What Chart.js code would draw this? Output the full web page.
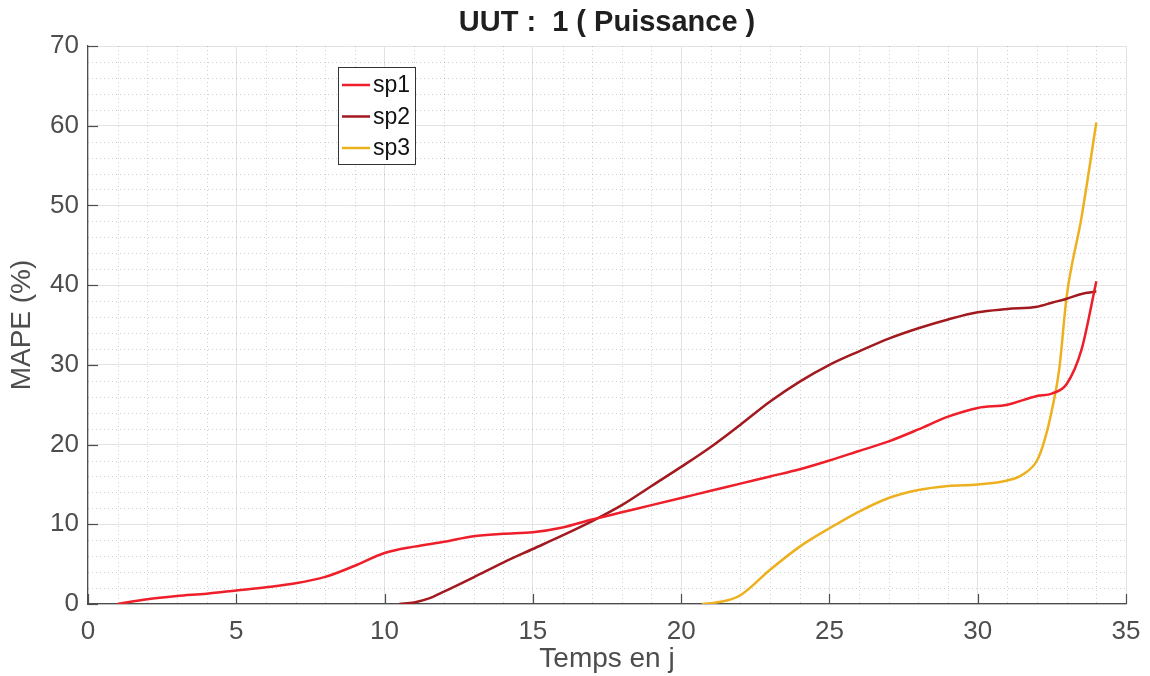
<!DOCTYPE html>
<html>
<head>
<meta charset="utf-8">
<script src="https://cdn.jsdelivr.net/npm/chart.js@4.4.1/dist/chart.umd.min.js"></script>
<style>
  html, body { margin:0; padding:0; background:#fff; }
  #wrap { width:1150px; height:676px; }
</style>
</head>
<body>
<div id="wrap"><canvas id="chartMape" width="1150" height="676"></canvas></div>
<script>
// ----- Données
const titre  = 'UUT :  1 ( Puissance )';
const xLabel = 'Temps en j';
const yLabel = 'MAPE (%)';
const xTicks = [0, 5, 10, 15, 20, 25, 30, 35];
const yTicks = [0, 10, 20, 30, 40, 50, 60, 70];

const jours1 = [1,2,3,4,5,6,7,8,9,10,11,12,13,14,15,16,17,18,19,20,21,22,23,24,25,26,27,28,29,30,31,32,32.5,33,33.5,34];
const mape1  = [0,0.6,1.0,1.3,1.7,2.1,2.6,3.4,4.8,6.4,7.2,7.8,8.5,8.8,9.0,9.6,10.6,11.5,12.4,13.3,14.2,15.1,16.0,16.9,18.0,19.2,20.4,21.9,23.5,24.6,25.0,26.1,26.4,27.6,31.9,40.5];

const jours2 = [10.5,11,11.5,12,13,14,15,16,17,18,19,20,21,22,23,24,25,26,27,28,29,30,31,32,32.5,33,33.5,34];
const mape2  = [0,0.2,0.7,1.55,3.35,5.2,6.9,8.6,10.4,12.4,14.8,17.2,19.7,22.5,25.4,27.9,30.0,31.7,33.3,34.6,35.7,36.6,37.0,37.3,37.8,38.3,38.9,39.2];

const jours3 = [20.7,21,21.5,22,23,24,25,26,27,28,29,30,31,31.5,32,32.25,32.5,32.75,33,33.5,34];
const mape3  = [0,0.1,0.4,1.1,4.3,7.2,9.5,11.6,13.3,14.3,14.8,15.0,15.5,16.2,18.0,20.5,24.3,29.5,38.6,48.5,60.4];

// Palette
const rouge = '#ee1f2a', bordeaux = '#a2191f', jaune = '#edb120';
const FONT = '"Liberation Sans", Arial, Helvetica, sans-serif';
const gris = '#4d4d4d';

const pts = (xs, ys) => xs.map((x, i) => ({ x, y: ys[i] }));

// Grille mineure pointillée + graduations intérieures
const grilleMineure = {
  id: 'grilleMineure',
  beforeDatasetsDraw(chart) {
    const { ctx, chartArea: a, scales: { x, y } } = chart;
    ctx.save();
    ctx.strokeStyle = 'rgba(0,0,0,0.18)';
    ctx.lineWidth = 1;
    ctx.setLineDash([1, 3]);
    for (let v = x.min + 1; v < x.max; v += 1) {
      if (v % 5 === 0) continue;
      const px = Math.round(x.getPixelForValue(v)) + 0.5;
      ctx.beginPath(); ctx.moveTo(px, a.top); ctx.lineTo(px, a.bottom); ctx.stroke();
    }
    for (let v = y.min + 2; v < y.max; v += 2) {
      if (v % 10 === 0) continue;
      const py = Math.round(y.getPixelForValue(v)) + 0.5;
      ctx.beginPath(); ctx.moveTo(a.left, py); ctx.lineTo(a.right, py); ctx.stroke();
    }
    ctx.restore();
  },
  afterDatasetsDraw(chart) {
    const { ctx, chartArea: a, scales: { x, y } } = chart;
    ctx.save();
    ctx.strokeStyle = gris;
    ctx.lineWidth = 1.2;
    xTicks.forEach(v => {
      const px = Math.round(x.getPixelForValue(v)) + 0.5;
      ctx.beginPath(); ctx.moveTo(px, a.bottom); ctx.lineTo(px, a.bottom - 10); ctx.stroke();
    });
    yTicks.forEach(v => {
      const py = Math.round(y.getPixelForValue(v)) + 0.5;
      ctx.beginPath(); ctx.moveTo(a.left, py); ctx.lineTo(a.left + 10, py); ctx.stroke();
    });
    ctx.restore();
  }
};

// Titre + légende façon MATLAB
const titreLegende = {
  id: 'titreLegende',
  afterDraw(chart) {
    const { ctx, chartArea: a } = chart;
    ctx.save();
    ctx.fillStyle = '#1f1f1f';
    ctx.font = 'bold 29px ' + FONT;
    ctx.textAlign = 'center';
    ctx.textBaseline = 'alphabetic';
    ctx.fillText(titre, (a.left + a.right) / 2, 31);

    // boîte de légende
    const bx = 338.5, by = 67.5, bw = 77, bh = 97;
    ctx.fillStyle = '#fff';
    ctx.fillRect(bx, by, bw, bh);
    ctx.strokeStyle = '#333';
    ctx.lineWidth = 1;
    ctx.setLineDash([]);
    ctx.strokeRect(bx, by, bw, bh);
    ctx.font = '23px ' + FONT;
    ctx.textAlign = 'left';
    ctx.textBaseline = 'middle';
    chart.data.datasets.forEach((ds, i) => {
      const yy = 85 + i * 31.5;
      ctx.strokeStyle = ds.borderColor;
      ctx.lineWidth = 2.5;
      ctx.beginPath(); ctx.moveTo(342, yy); ctx.lineTo(370, yy); ctx.stroke();
      ctx.fillStyle = '#111';
      ctx.fillText(ds.label, 373, yy + 1);
    });
    ctx.restore();
  }
};

const cv = document.getElementById('chartMape');
new Chart(cv, {
  type: 'line',
  data: {
    datasets: [
      { label: 'sp1', data: pts(jours1, mape1), borderColor: rouge,    borderWidth: 2.5 },
      { label: 'sp2', data: pts(jours2, mape2), borderColor: bordeaux, borderWidth: 2.5 },
      { label: 'sp3', data: pts(jours3, mape3), borderColor: jaune,    borderWidth: 2.5 }
    ]
  },
  options: {
    responsive: false, animation: false,
    parsing: false,
    elements: { point: { radius: 0 }, line: { cubicInterpolationMode: 'monotone' } },
    layout: { padding: { top: 46, right: 24, left: 0, bottom: 0 } },
    scales: {
      x: {
        type: 'linear', min: 0, max: 35,
        afterBuildTicks: s => { s.ticks = xTicks.map(v => ({ value: v })); },
        afterFit: s => { s.height = 72; s.paddingLeft = 0; s.paddingRight = 0; },
        ticks: { color: gris, font: { family: FONT, size: 26 }, padding: 12, maxRotation: 0 },
        grid: { color: '#e3e3e3', lineWidth: 1, drawTicks: false },
        border: { color: gris, width: 1.2 },
        title: { display: true, text: xLabel, color: gris, font: { family: FONT, size: 28 }, padding: { top: 0, bottom: 0 } }
      },
      y: {
        type: 'linear', min: 0, max: 70,
        afterBuildTicks: s => { s.ticks = yTicks.map(v => ({ value: v })); },
        afterFit: s => { s.width = 88; s.paddingTop = 0; s.paddingBottom = 0; },
        ticks: { color: gris, font: { family: FONT, size: 26 }, padding: 9 },
        grid: { color: '#e3e3e3', lineWidth: 1, drawTicks: false },
        border: { color: gris, width: 1.2 },
        title: { display: true, text: yLabel, color: gris, font: { family: FONT, size: 28 }, padding: { top: 5, bottom: 0 } }
      }
    },
    plugins: { legend: { display: false }, tooltip: { enabled: false }, title: { display: false } }
  },
  plugins: [grilleMineure, titreLegende]
});
</script>
</body>
</html>
